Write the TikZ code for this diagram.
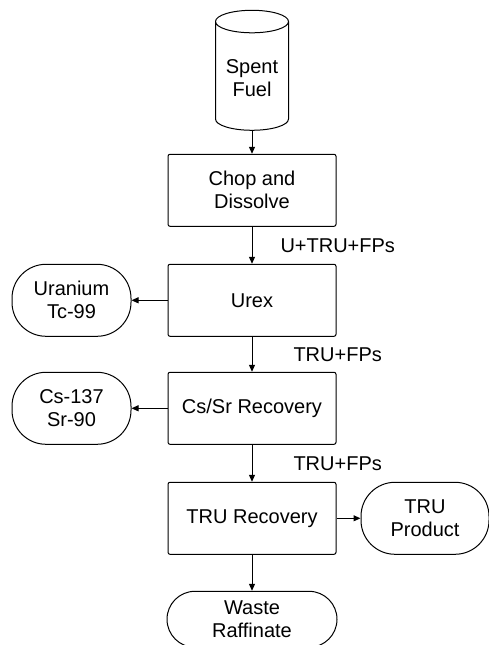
\documentclass[tikz,border=0pt]{standalone}
\usepackage{fontspec}
\setmainfont{Liberation Sans}
\usetikzlibrary{positioning, arrows.meta, shapes.geometric}

\begin{document}
\begin{tikzpicture}[
  x=1pt, y=1pt,
  font=\fontsize{20}{23}\selectfont, line width=1pt,
  step box/.style={draw, rounded corners=2pt, align=center, minimum width=168pt, minimum height=72pt, inner sep=2pt},
  term/.style    ={draw, rounded corners=34pt, align=center, minimum width=#1, minimum height=72pt, inner sep=2pt},
  fuel/.style    ={draw, cylinder, shape border rotate=90, aspect=0.4, align=center, minimum width=73pt, minimum height=120pt, inner sep=2pt},
  flow/.style    ={-{Triangle[length=7pt, width=6pt]}},
  lbl/.style     ={right, inner sep=0pt},
]
\useasboundingbox (0,0) rectangle (489,-645);

% ---------- main column ----------
\node[fuel] (spent) at (252,-78) {Spent\\Fuel};
\node[step box, below=23pt of spent] (chop)  {Chop and\\Dissolve};
\node[step box, below=37pt of chop]  (urex)  {Urex};
\node[step box, below=35pt of urex]  (cssr)  {Cs/Sr Recovery};
\node[step box, below=37pt of cssr]  (trurec) {TRU Recovery};
\node[term=170pt, minimum height=56pt, rounded corners=28pt, below=36pt of trurec] (waste) {Waste\\Raffinate};

% ---------- side products ----------
\node[term=119pt, left=36pt of urex]   (uranium) {Uranium\\Tc-99};
\node[term=119pt, left=36pt of cssr]   (cesium)  {Cs-137\\Sr-90};
\node[term=128pt, right=24pt of trurec] (truprod) {TRU\\Product};

% ---------- flows ----------
\draw[flow] (spent.south) -- (chop.north);
\draw[flow] (chop.south) -- node[lbl, xshift=28pt]{U+TRU+FPs} (urex.north);
\draw[flow] (urex.south) -- node[lbl, xshift=41pt]{TRU+FPs} (cssr.north);
\draw[flow] (cssr.south) -- node[lbl, xshift=41pt]{TRU+FPs} (trurec.north);
\draw[flow] (trurec.south) -- (waste.north);
\draw[flow] (urex.west) -- (uranium.east);
\draw[flow] (cssr.west) -- (cesium.east);
\draw[flow] (trurec.east) -- (truprod.west);

\end{tikzpicture}
\end{document}
